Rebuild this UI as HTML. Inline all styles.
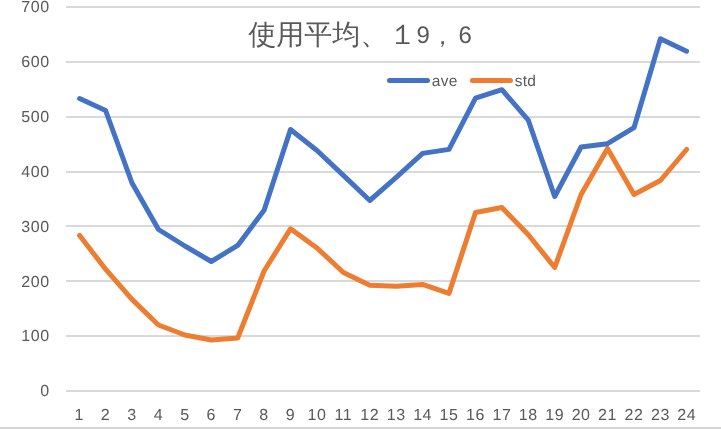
<!DOCTYPE html>
<html><head><meta charset="utf-8"><title>chart</title>
<style>
html,body{margin:0;padding:0;background:#fff;}
body{width:721px;height:429px;overflow:hidden;}
svg{display:block;will-change:transform;}
text{font-family:"Liberation Sans",sans-serif;fill:#595959;text-rendering:geometricPrecision;}
.ax text{letter-spacing:0.55px;}
</style></head><body>
<svg width="721" height="429" viewBox="0 0 721 429">
<rect x="0" y="0" width="721" height="429" fill="#ffffff"/>
<g fill="#d9d9d9">
<rect x="66" y="6" width="634" height="2"/>
<rect x="66" y="61" width="634" height="2"/>
<rect x="66" y="116" width="634" height="2"/>
<rect x="66" y="171" width="634" height="2"/>
<rect x="66" y="225" width="634" height="2"/>
<rect x="66" y="280" width="634" height="2"/>
<rect x="66" y="335" width="634" height="2"/>
<rect x="66" y="390" width="634" height="2"/>
</g>
<rect x="0" y="427" width="721" height="2" fill="#d6d6d6"/>
<g class="ax" font-size="16" text-anchor="end">
<text x="49.6" y="12.2">700</text>
<text x="49.6" y="67.1">600</text>
<text x="49.6" y="121.9">500</text>
<text x="49.6" y="176.8">400</text>
<text x="49.6" y="231.6">300</text>
<text x="49.6" y="286.5">200</text>
<text x="49.6" y="341.3">100</text>
<text x="49.6" y="396.2">0</text>
</g>
<g class="ax" font-size="16" text-anchor="middle">
<text x="79.2" y="420.3">1</text>
<text x="105.6" y="420.3">2</text>
<text x="132.0" y="420.3">3</text>
<text x="158.5" y="420.3">4</text>
<text x="184.9" y="420.3">5</text>
<text x="211.3" y="420.3">6</text>
<text x="237.7" y="420.3">7</text>
<text x="264.1" y="420.3">8</text>
<text x="290.5" y="420.3">9</text>
<text x="317.0" y="420.3">10</text>
<text x="343.4" y="420.3">11</text>
<text x="369.8" y="420.3">12</text>
<text x="396.2" y="420.3">13</text>
<text x="422.6" y="420.3">14</text>
<text x="449.0" y="420.3">15</text>
<text x="475.5" y="420.3">16</text>
<text x="501.9" y="420.3">17</text>
<text x="528.3" y="420.3">18</text>
<text x="554.7" y="420.3">19</text>
<text x="581.1" y="420.3">20</text>
<text x="607.5" y="420.3">21</text>
<text x="634.0" y="420.3">22</text>
<text x="660.4" y="420.3">23</text>
<text x="686.8" y="420.3">24</text>
</g>
<polyline fill="none" stroke="#ed7d31" stroke-width="5" stroke-linecap="round" stroke-linejoin="round" points="79.6,235.5 105.6,269.2 132.0,299.4 158.5,325.0 184.9,335.0 211.3,340.0 237.7,338.0 264.1,271.0 290.5,228.8 317.0,248.0 343.4,272.5 369.8,285.2 396.2,286.2 422.6,284.4 449.0,293.4 475.5,212.5 501.9,207.5 528.3,234.7 554.7,267.5 581.1,194.5 607.5,148.4 634.0,194.5 660.4,180.5 686.6,149.5"/>
<polyline fill="none" stroke="#4472c4" stroke-width="5" stroke-linecap="round" stroke-linejoin="round" points="79.6,98.6 105.6,110.5 132.0,183.0 158.5,229.5 184.9,246.0 211.3,261.5 237.7,245.4 264.1,210.2 290.5,129.5 317.0,150.5 343.4,175.4 369.8,200.5 396.2,177.4 422.6,153.4 449.0,149.4 475.5,98.2 501.9,89.7 528.3,120.2 554.7,196.5 581.1,147.0 607.5,143.7 634.0,127.7 660.4,38.7 686.6,51.2"/>
<line x1="389.5" y1="80.5" x2="427.5" y2="80.5" stroke="#4472c4" stroke-width="5" stroke-linecap="round"/>
<text x="431.8" y="85.5" font-size="15.5" letter-spacing="0.3">ave</text>
<line x1="472.4" y1="80.5" x2="510.4" y2="80.5" stroke="#ed7d31" stroke-width="5" stroke-linecap="round"/>
<text x="514.7" y="85.5" font-size="15.5" letter-spacing="0.3">std</text>
<g font-size="28" style="font-family:'Liberation Sans','Noto Sans CJK JP',sans-serif;">
<text x="248.2" y="43.8">使用平均、</text>
<text x="388.7" y="43.8">１</text>
<text x="416.5" y="43.4" font-size="24">9</text>
<text x="430.5" y="43.8" font-size="24">，</text>
<text x="458.5" y="43.4" font-size="24">6</text>
</g>
</svg>
</body></html>
